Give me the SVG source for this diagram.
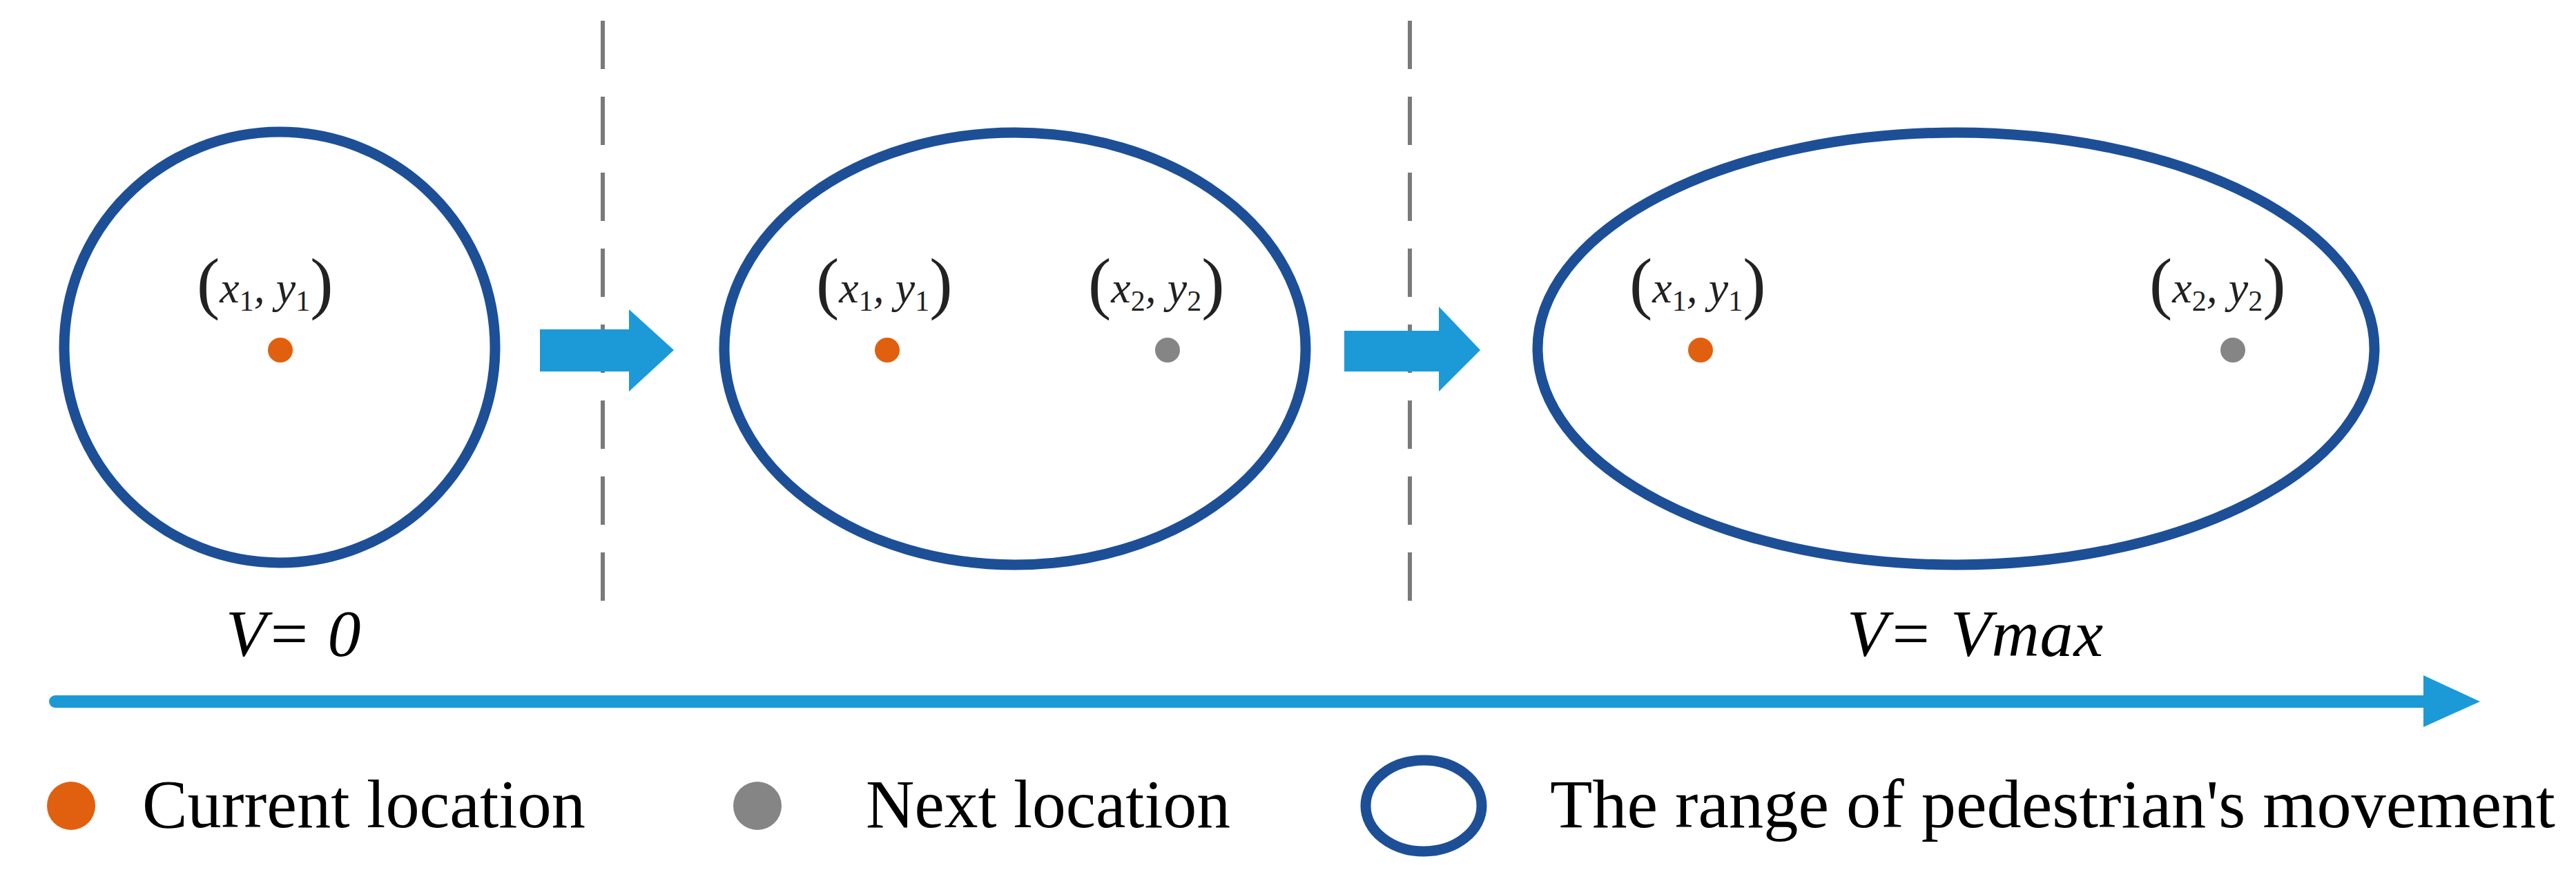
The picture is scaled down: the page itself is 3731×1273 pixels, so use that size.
<svg xmlns="http://www.w3.org/2000/svg" width="3731" height="1273" viewBox="0 0 3731 1273">
<style>
.rng{fill:none;stroke:#1d4f97;stroke-width:15}
.cur{fill:#e0600f}
.nxt{fill:#858585}
.dash{stroke:#7a7a7a;stroke-width:6;stroke-dasharray:70,40}
.blue{fill:#1c9ad8}
.coord{font-family:'Liberation Serif','Times New Roman','DejaVu Serif',serif;font-style:italic;font-size:64px;fill:#222}
.sub{font-style:normal;font-size:42px}
.par{font-style:normal;font-size:100px}
.vlab{font-family:'Liberation Serif','Times New Roman','DejaVu Serif',serif;font-style:italic;font-size:96px;fill:#000}
.leg{font-family:'Liberation Serif','Times New Roman','DejaVu Serif',serif;font-size:100px;fill:#000}
</style>
<rect width="3731" height="1273" fill="#fff"/>
<g id="separators">
<line class="dash" x1="873" y1="30" x2="873" y2="900"/>
<line class="dash" x1="2042" y1="30" x2="2042" y2="900"/>
</g>
<g id="stage1">
<ellipse class="rng" cx="405" cy="503" rx="312" ry="312"/>
<circle class="cur" cx="406" cy="507" r="18"/>
<text class="coord" x="285" y="438"><tspan class="par" dy="5">(</tspan><tspan dy="-5">x</tspan><tspan class="sub" dy="12">1</tspan><tspan dy="-12">, y</tspan><tspan class="sub" dy="12">1</tspan><tspan class="par" dy="-7">)</tspan></text>
<text class="vlab" x="327" y="950">V= 0</text>
</g>
<g id="stage2">
<ellipse class="rng" cx="1470" cy="505" rx="421" ry="313"/>
<circle class="cur" cx="1285" cy="507" r="18"/>
<circle class="nxt" cx="1691" cy="507" r="18"/>
<text class="coord" x="1182" y="438"><tspan class="par" dy="5">(</tspan><tspan dy="-5">x</tspan><tspan class="sub" dy="12">1</tspan><tspan dy="-12">, y</tspan><tspan class="sub" dy="12">1</tspan><tspan class="par" dy="-7">)</tspan></text>
<text class="coord" x="1576" y="438"><tspan class="par" dy="5">(</tspan><tspan dy="-5">x</tspan><tspan class="sub" dy="12">2</tspan><tspan dy="-12">, y</tspan><tspan class="sub" dy="12">2</tspan><tspan class="par" dy="-7">)</tspan></text>
</g>
<g id="stage3">
<ellipse class="rng" cx="2833" cy="505" rx="606" ry="313"/>
<circle class="cur" cx="2463" cy="507" r="18"/>
<circle class="nxt" cx="3234" cy="507" r="18"/>
<text class="coord" x="2360" y="438"><tspan class="par" dy="5">(</tspan><tspan dy="-5">x</tspan><tspan class="sub" dy="12">1</tspan><tspan dy="-12">, y</tspan><tspan class="sub" dy="12">1</tspan><tspan class="par" dy="-7">)</tspan></text>
<text class="coord" x="3113" y="438"><tspan class="par" dy="5">(</tspan><tspan dy="-5">x</tspan><tspan class="sub" dy="12">2</tspan><tspan dy="-12">, y</tspan><tspan class="sub" dy="12">2</tspan><tspan class="par" dy="-7">)</tspan></text>
<text class="vlab" x="2675" y="950" textLength="371">V= Vmax</text>
</g>
<g id="connectors">
<polygon class="blue" points="782,477 911,477 911,448 976,507 911,567 911,538 782,538"/>
<polygon class="blue" points="1947,479 2084,479 2084,444 2144,507 2084,567 2084,538 1947,538"/>
<line x1="80" y1="1016" x2="3520" y2="1016" stroke="#1c9ad8" stroke-width="18" stroke-linecap="round"/>
<polygon class="blue" points="3510,978 3592,1016 3510,1053"/>
</g>
<g id="legend">
<circle class="cur" cx="103" cy="1167" r="35"/>
<text class="leg" x="206" y="1198" textLength="642" lengthAdjust="spacingAndGlyphs">Current location</text>
<circle class="nxt" cx="1097" cy="1167" r="35"/>
<text class="leg" x="1254" y="1198" textLength="528" lengthAdjust="spacingAndGlyphs">Next location</text>
<ellipse class="rng" cx="2062" cy="1167" rx="84" ry="66"/>
<text class="leg" x="2245" y="1198" textLength="1456" lengthAdjust="spacingAndGlyphs">The range of pedestrian's movement</text>
</g>
</svg>
